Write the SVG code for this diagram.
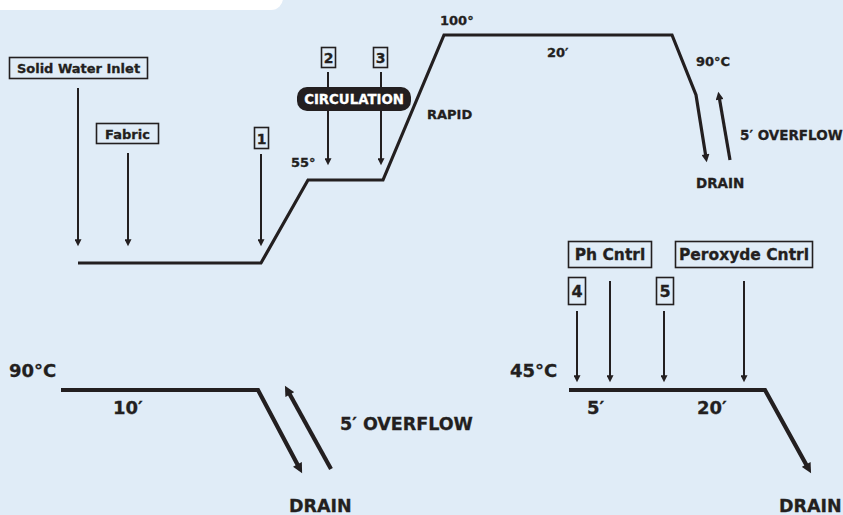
<svg xmlns="http://www.w3.org/2000/svg" width="843" height="515" viewBox="0 0 843 515">
<style>
.t{font-family:"DejaVu Sans","Liberation Sans",sans-serif;font-weight:bold;fill:#231f20;stroke:#231f20;stroke-width:0.3}
.box{fill:none;stroke:#231f20;stroke-width:1.6}
.thin{fill:none;stroke:#231f20;stroke-width:2}
.prof{fill:none;stroke:#231f20;stroke-width:3.2;stroke-linejoin:miter}
.profb{fill:none;stroke:#231f20;stroke-width:4.2;stroke-linejoin:miter}
</style>
<defs>
<marker id="ah" viewBox="0 0 10 10" refX="1" refY="5" markerWidth="9" markerHeight="7" markerUnits="userSpaceOnUse" orient="auto"><path d="M0,0 L10,5 L0,10 z" fill="#231f20"/></marker>
<marker id="ahm" viewBox="0 0 10 10" refX="1" refY="5" markerWidth="10" markerHeight="8" markerUnits="userSpaceOnUse" orient="auto"><path d="M0,0 L10,5 L0,10 z" fill="#231f20"/></marker>
<marker id="ahb" viewBox="0 0 10 10" refX="1" refY="5" markerWidth="12" markerHeight="10" markerUnits="userSpaceOnUse" orient="auto"><path d="M0,0 L10,5 L0,10 z" fill="#231f20"/></marker>
</defs>
<rect x="0" y="0" width="843" height="515" fill="#e0ecf7"/>
<rect x="-20" y="-20" width="303" height="30" rx="12" fill="#ffffff"/>

<g id="connectors">
<path class="prof" d="M78,263 L261,263 L308,180 L383,180 L444,35 L672,35 L696,95 L705.6,155.1" marker-end="url(#ahm)"/>
<path class="prof" d="M730,160 L719.5,98.9" marker-end="url(#ahm)"/>
<path class="thin" d="M78,88 L78,240" marker-end="url(#ah)"/>
<path class="thin" d="M128,153 L128,240" marker-end="url(#ah)"/>
<path class="thin" d="M261,154 L261,240" marker-end="url(#ah)"/>
<path class="thin" d="M328,72 L328,159" marker-end="url(#ah)"/>
<path class="thin" d="M381,72 L381,159" marker-end="url(#ah)"/>
<path class="profb" d="M61,390 L258,390 L297.9,465.3" marker-end="url(#ahb)"/>
<path class="profb" d="M331,469 L289.3,393.6" marker-end="url(#ahb)"/>
<path class="profb" d="M569,390 L765,390 L806.7,465.4" marker-end="url(#ahb)"/>
<path class="thin" d="M577,311 L577,376" marker-end="url(#ah)"/>
<path class="thin" d="M610,281 L610,376" marker-end="url(#ah)"/>
<path class="thin" d="M664,311 L664,376" marker-end="url(#ah)"/>
<path class="thin" d="M744,281 L744,376" marker-end="url(#ah)"/>
</g>

<g id="solid-water-inlet">
<rect class="box" x="9.5" y="57.5" width="138" height="21"/>
<text class="t" x="78.5" y="73" font-size="13" text-anchor="middle">Solid Water Inlet</text>
</g>
<g id="fabric">
<rect class="box" x="96.5" y="123.5" width="62" height="20"/>
<text class="t" x="127.5" y="139" font-size="13" text-anchor="middle">Fabric</text>
</g>
<g id="step1">
<rect class="box" x="254.5" y="127.5" width="14" height="21"/>
<text class="t" x="261.5" y="144" font-size="14" text-anchor="middle">1</text>
</g>
<g id="step2">
<rect class="box" x="321.5" y="47.5" width="14" height="20"/>
<text class="t" x="328.5" y="63" font-size="14" text-anchor="middle">2</text>
</g>
<g id="step3">
<rect class="box" x="373.5" y="47.5" width="14" height="20"/>
<text class="t" x="380.5" y="63" font-size="14" text-anchor="middle">3</text>
</g>
<g id="circulation">
<rect x="297" y="87" width="114" height="24" rx="10" fill="#231f20"/>
<text class="t" x="354" y="104" font-size="13.3" text-anchor="middle" style="fill:#ffffff;stroke:#ffffff">CIRCULATION</text>
</g>
<g id="labels-top">
<text class="t" x="291" y="167" font-size="13">55°</text>
<text class="t" x="427" y="119" font-size="13">RAPID</text>
<text class="t" x="440" y="25" font-size="13">100°</text>
<text class="t" x="547" y="57" font-size="13">20′</text>
<text class="t" x="696" y="66" font-size="13">90°C</text>
<text class="t" x="740" y="140" font-size="13.5">5′ OVERFLOW</text>
<text class="t" x="696" y="188" font-size="13.5">DRAIN</text>
</g>
<g id="labels-bottom-left">
<text class="t" x="9" y="377" font-size="18">90°C</text>
<text class="t" x="113" y="414" font-size="18">10′</text>
<text class="t" x="340" y="430" font-size="17.5">5′ OVERFLOW</text>
<text class="t" x="289" y="512" font-size="17.5">DRAIN</text>
</g>
<g id="ph-cntrl">
<rect class="box" x="568.5" y="241.5" width="83" height="26"/>
<text class="t" x="610" y="260" font-size="15.5" text-anchor="middle">Ph Cntrl</text>
</g>
<g id="peroxyde-cntrl">
<rect class="box" x="675.5" y="241.5" width="137" height="26"/>
<text class="t" x="744" y="260" font-size="15.5" text-anchor="middle">Peroxyde Cntrl</text>
</g>
<g id="step4">
<rect class="box" x="568.5" y="277.5" width="17" height="27"/>
<text class="t" x="577" y="297" font-size="16" text-anchor="middle">4</text>
</g>
<g id="step5">
<rect class="box" x="656.5" y="277.5" width="17" height="27"/>
<text class="t" x="665" y="297" font-size="16" text-anchor="middle">5</text>
</g>
<g id="labels-bottom-right">
<text class="t" x="510" y="377" font-size="18">45°C</text>
<text class="t" x="587" y="414" font-size="18">5′</text>
<text class="t" x="697" y="414" font-size="18">20′</text>
<text class="t" x="779" y="512" font-size="17.5">DRAIN</text>
</g>
</svg>
